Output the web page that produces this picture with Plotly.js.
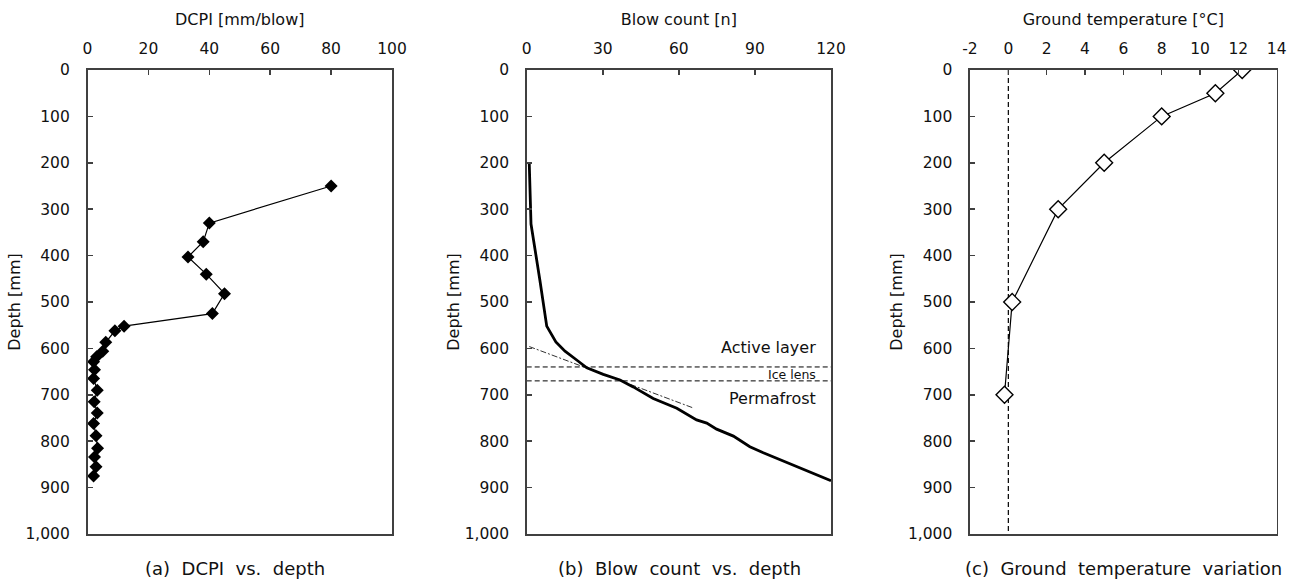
<!DOCTYPE html>
<html>
<head>
<meta charset="utf-8">
<script src="https://cdn.plot.ly/plotly-3.0.1.min.js"></script>
<style>html,body{margin:0;padding:0;background:#fff;}#chart{width:1298px;height:581px;}</style>
</head>
<body>
<div id="chart"></div>
<script>
// (a) DCPI vs depth
const dcpiValues = [80, 40, 38, 33, 39, 45, 41, 12, 9, 6, 5, 3, 2, 2.3, 2, 3.2, 2.2, 3.2, 2, 2.8, 3.3, 2.3, 2.8, 2];
const dcpiDepth  = [250, 330, 370, 403, 440, 482, 525, 552, 562, 587, 606, 618, 629, 646, 665, 690, 715, 739, 762, 788, 815, 834, 855, 875];

// (b) Blow count vs depth
const blowCount = [1, 1.7, 5.2, 6.5, 7.9, 11.5, 15.1, 19.7, 23.7, 30.2, 36.8, 42, 49.9, 59.2, 67, 71, 74.9, 81.5, 88, 93.3, 101.2, 110.4, 120];
const blowDepth = [200, 332, 453, 496, 552, 586, 606, 625, 642, 656, 668, 683, 708, 729, 754, 761, 774, 789, 812, 825, 843, 864, 885];
const tangentBlow  = [1, 66];
const tangentDepth = [596, 729];
const iceLensTop = 640;
const iceLensBottom = 670;
const blowRange = [0, 120];
const layerLabels = ["Active layer", "Ice lens", "Permafrost"];
const layerLabelDepths = [598, 656, 708];
const layerLabelBlow = 114.7;

// (c) Ground temperature
const tempValues = [12.2, 10.8, 8.0, 5.0, 2.6, 0.2, -0.2];
const tempDepth  = [0, 50, 100, 200, 300, 500, 700];
const freezeTemp = [0, 0];
const freezeDepth = [0, 1000];
const tempTickVals = [-2, 0, 2, 4, 6, 8, 10, 12, 14];
const tempTickText = ["-2", "0", "2", "4", "6", "8", "10", "12", "14"];

// Titles
const xTitles = ["DCPI [mm/blow]", "Blow count [n]", "Ground temperature [°C]"];
const yTitle = "Depth [mm]";
const captions = ["(a)  DCPI  vs.  depth", "(b)  Blow  count  vs.  depth", "(c)  Ground  temperature  variation"];

const FONT = "DejaVu Sans, Arial, sans-serif";
const AX = '#404040';
const H = 581, W = 1298;
const yDom = [(H - 534) / H, (H - 70) / H];

function xAxis(dom, range, dtick, title) {
  return {
    domain: dom, range: range, dtick: dtick, tick0: range[0], side: 'top',
    showline: true, linecolor: AX, linewidth: 1.6, mirror: true,
    ticks: 'inside', ticklen: 5, tickwidth: 1.5, tickcolor: AX,
    showgrid: false, zeroline: false, fixedrange: true,
    tickfont: {family: FONT, size: 15.5, color: '#111'},
    ticklabelstandoff: 8,
    title: {text: title, font: {family: FONT, size: 16, color: '#111'}, standoff: 10}
  };
}
function yAxis(dom) {
  return {
    domain: dom, range: [1000, 0], dtick: 100, tick0: 0, tickformat: ',',
    showline: true, linecolor: AX, linewidth: 1.6, mirror: true,
    ticks: 'inside', ticklen: 5, tickwidth: 1.5, tickcolor: AX,
    showgrid: false, zeroline: false, fixedrange: true,
    tickfont: {family: FONT, size: 15.5, color: '#111'},
    ticklabelstandoff: 13,
    title: {text: yTitle, font: {family: FONT, size: 16, color: '#111'}, standoff: 1}
  };
}

const traces = [
  {x: dcpiValues, y: dcpiDepth, xaxis: 'x', yaxis: 'y', mode: 'lines+markers',
   line: {color: '#000', width: 1.2},
   marker: {symbol: 'diamond', size: 10, color: '#000'}},
  {x: tangentBlow, y: tangentDepth, xaxis: 'x2', yaxis: 'y2', mode: 'lines',
   line: {color: '#333', width: 1, dash: '6px,2px,2px,2px'}},
  {x: blowRange, y: [iceLensTop, iceLensTop], xaxis: 'x2', yaxis: 'y2', mode: 'lines',
   line: {color: '#000', width: 1, dash: '5px,3px'}},
  {x: blowRange, y: [iceLensBottom, iceLensBottom], xaxis: 'x2', yaxis: 'y2', mode: 'lines',
   line: {color: '#000', width: 1, dash: '5px,3px'}},
  {x: blowCount, y: blowDepth, xaxis: 'x2', yaxis: 'y2', mode: 'lines',
   line: {color: '#000', width: 2.8}},
  {x: freezeTemp, y: freezeDepth, xaxis: 'x3', yaxis: 'y3', mode: 'lines',
   line: {color: '#000', width: 1.2, dash: '5px,3px'}},
  {x: tempValues, y: tempDepth, xaxis: 'x3', yaxis: 'y3', mode: 'lines+markers',
   line: {color: '#000', width: 1.2},
   marker: {symbol: 'diamond', size: 13, color: '#fff', line: {color: '#000', width: 1.4}}}
];

const annotations = [];
layerLabels.forEach((t, i) => {
  annotations.push({xref: 'x2', yref: 'y2', x: layerLabelBlow, y: layerLabelDepths[i], text: t,
    showarrow: false, xanchor: 'right', yanchor: 'middle',
    font: {family: FONT, size: i === 1 ? 12.5 : 16, color: '#111'}});
});
const capX = [235, 679, 1123.5];
captions.forEach((t, i) => {
  annotations.push({xref: 'paper', yref: 'paper', x: capX[i] / W, y: (H - 568) / H, text: t,
    showarrow: false, xanchor: 'center', yanchor: 'middle',
    font: {family: FONT, size: 18, color: '#111'}});
});

const layout = {
  width: W, height: H, margin: {l: 0, r: 0, t: 0, b: 0},
  paper_bgcolor: '#fff', plot_bgcolor: '#fff', showlegend: false,
  xaxis: Object.assign(xAxis([87.5 / W, 392 / W], [0, 100], 20, xTitles[0]), {anchor: 'y'}),
  yaxis: Object.assign(yAxis(yDom), {anchor: 'x'}),
  xaxis2: Object.assign(xAxis([526.7 / W, 831 / W], [0, 120], 30, xTitles[1]), {anchor: 'y2'}),
  yaxis2: Object.assign(yAxis(yDom), {anchor: 'x2'}),
  xaxis3: Object.assign(xAxis([970 / W, 1276.7 / W], [-2, 14], 2, xTitles[2]),
    {anchor: 'y3', tickmode: 'array', tickvals: tempTickVals, ticktext: tempTickText}),
  yaxis3: Object.assign(yAxis(yDom), {anchor: 'x3'}),
  annotations: annotations
};

Plotly.newPlot('chart', traces, layout, {displayModeBar: false, staticPlot: true});
</script>
</body>
</html>
